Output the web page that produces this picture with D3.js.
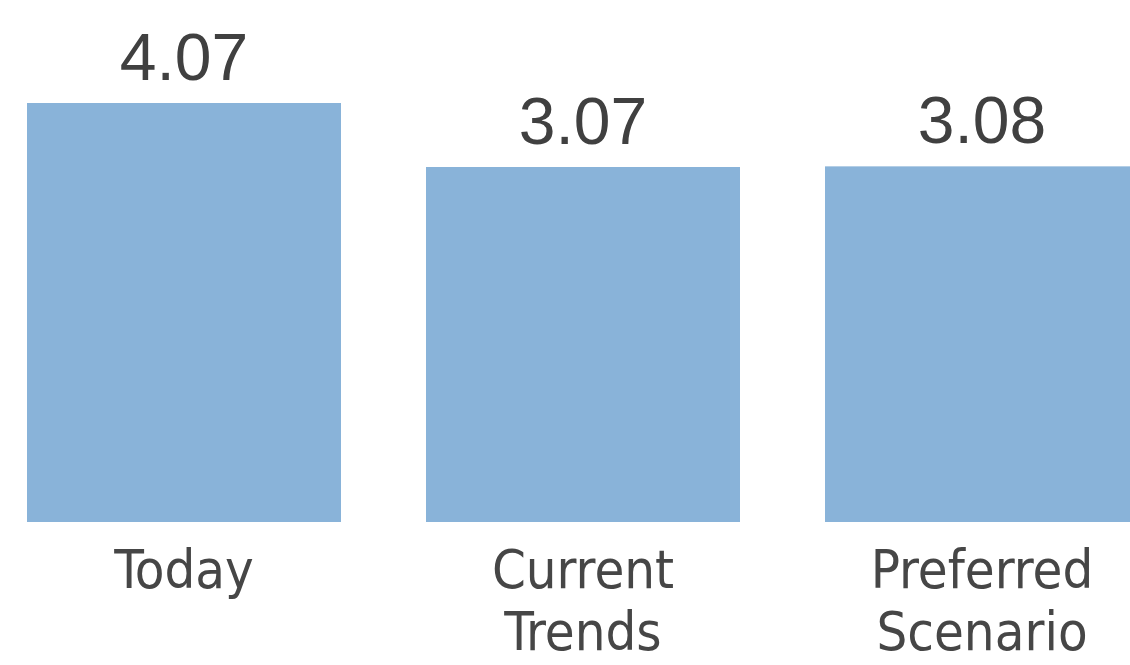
<!DOCTYPE html>
<html>
<head>
<meta charset="utf-8">
<script src="https://cdn.jsdelivr.net/npm/d3@7"></script>
<style>
	html, body { margin: 0; padding: 0; background: #fff; overflow: hidden; }
</style>
</head>
<body>
<div id="chart"></div>
<script>
// data
const categories = [ [ 'Today' ], [ 'Current', 'Trends' ], [ 'Preferred', 'Scenario' ] ];
const values = [ 4.07, 3.07, 3.08 ];
const valueLabels = [ '4.07', '3.07', '3.08' ];

let dimensions = {
	width  : 1130,
	height : 665,
	margin : {
		top    : 103,
		right  : 0,
		bottom : 143,
		left   : 27
	}
};
dimensions.boundedHeight = dimensions.height - dimensions.margin.top - dimensions.margin.bottom;

const svg = d3
	.select('#chart')
	.append('svg')
	.attr('width', dimensions.width)
	.attr('height', dimensions.height);

const barColor = '#89b3d9';
const textColor = '#404040';

// last bar runs off the right edge in the original
const x = d3
	.scaleBand()
	.domain(d3.range(values.length))
	.range([ dimensions.margin.left, dimensions.margin.left + 399 * 3 - 85 ])
	.paddingInner(85 / 399)
	.paddingOuter(0);

// the bars don't start at zero in the original, baseline sits well below
const y = d3.scaleLinear().domain([ -2.477, 4.07 ]).range([ dimensions.height - dimensions.margin.bottom, dimensions.margin.top ]);

svg
	.selectAll('rect.bar')
	.data(values)
	.enter()
	.append('rect')
	.attr('class', 'bar')
	.attr('x', (d, i) => x(i))
	.attr('y', (d) => y(d))
	.attr('width', x.bandwidth())
	.attr('height', (d) => y(y.domain()[0]) - y(d))
	.attr('fill', barColor);

// value labels
svg
	.selectAll('text.value')
	.data(values)
	.enter()
	.append('text')
	.attr('class', 'value')
	.attr('x', (d, i) => x(i) + x.bandwidth() / 2)
	.attr('y', (d) => y(d) - 23)
	.attr('text-anchor', 'middle')
	.attr('font-family', '"Liberation Sans", Arial, sans-serif')
	.attr('font-size', '66px')
	.attr('fill', textColor)
	.text((d, i) => valueLabels[i]);

// category labels, two lines where needed
const cat = svg
	.selectAll('text.cat')
	.data(categories)
	.enter()
	.append('text')
	.attr('class', 'cat')
	.attr('x', (d, i) => x(i) + x.bandwidth() / 2)
	.attr('y', 588)
	.attr('text-anchor', 'middle')
	.attr('font-family', '"Liberation Sans Narrow", "DejaVu Sans Condensed", sans-serif')
	.attr('font-size', '54px')
	.attr('fill', '#464646');

cat
	.selectAll('tspan')
	.data((d) => d)
	.enter()
	.append('tspan')
	.attr('x', function() {
		return d3.select(this.parentNode).attr('x');
	})
	.attr('dy', (d, i) => (i === 0 ? 0 : 62))
	.text((d) => d);
</script>
</body>
</html>
